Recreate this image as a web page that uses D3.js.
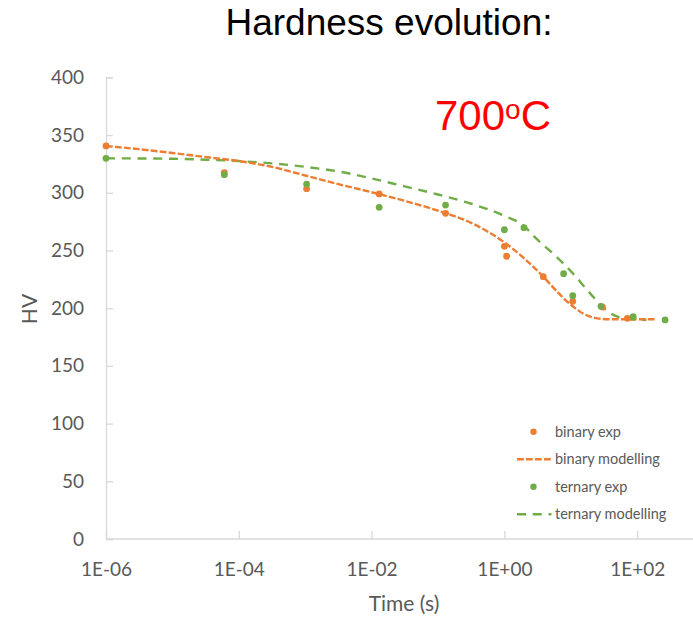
<!DOCTYPE html>
<html>
<head>
<meta charset="utf-8">
<script src="https://cdn.jsdelivr.net/npm/d3@7"></script>
<style>
  html, body { margin: 0; padding: 0; background: #fff; }
  svg { display: block; }
</style>
</head>
<body>
<svg id="chart" width="693" height="617"></svg>
<script>
// ---- Data ----
const yTicks = [0, 50, 100, 150, 200, 250, 300, 350, 400];
const xTicks = [1e-6, 1e-4, 1e-2, 1e0, 1e2];
const xTickLabels = ["1E-06", "1E-04", "1E-02", "1E+00", "1E+02"];

const binaryExpTime = [1e-6, 6.05e-5, 1.05e-3, 1.3e-2, 0.13, 1.0, 1.08, 3.85, 10.7, 30, 71];
const binaryExpHV   = [340.6, 317.4, 303.6, 299, 282.2, 253.6, 245, 227.3, 206, 201, 191.2];

const ternaryExpTime = [1e-6, 6.05e-5, 1.05e-3, 1.3e-2, 0.13, 1.0, 1.97, 7.8, 10.7, 28.5, 87, 263];
const ternaryExpHV   = [329.9, 315.7, 307.6, 287.4, 289.4, 268, 269.8, 229.9, 210.8, 201.6, 192.6, 189.8];

const binaryModelTime = [1e-6, 3.16e-6, 1e-5, 3.16e-5, 1e-4, 3.16e-4, 1e-3, 3.16e-3, 1e-2, 3.16e-2, 0.1, 0.316, 1.0, 2.0, 3.86, 6.3, 10, 15.8, 25.1, 39.8, 195];
const binaryModelHV   = [340.5, 337.8, 334.5, 331, 327.5, 322.5, 315, 307.5, 300.5, 293, 284.5, 274, 257, 243, 227.3, 214, 203, 195, 191.2, 190.4, 190.4];

const ternaryModelTime = [1e-6, 1e-5, 3.16e-5, 1e-4, 3.16e-4, 1e-3, 3.16e-3, 1e-2, 3.16e-2, 0.1, 0.316, 1.0, 2.0, 2.82, 3.98, 5.62, 7.94, 11.2, 15.8, 22.4, 31.6, 44.7, 63.1, 100, 138];
const ternaryModelHV   = [329.9, 329.5, 328.7, 327.5, 325.5, 322.5, 318.5, 312.5, 305.5, 298.5, 290.5, 280, 271, 262, 254, 246.5, 238, 229, 219, 209, 200, 194, 191, 190, 189.8];

const legendLabels = ["binary exp", "binary modelling", "ternary exp", "ternary modelling"];

// ---- Styles ----
const ORANGE = "#ED7D31", GREEN = "#70AD47";
const AXIS = "#D9D9D9", TXT = "#595959";
const FONT = "Lato, 'Open Sans', sans-serif";

const svg = d3.select("#chart");

const x = d3.scaleLog().domain([1e-6, 1e3]).range([106, 703.6]);
const y = d3.scaleLinear().domain([0, 400]).range([539, 77.4]);

// Title
svg.append("text").attr("x", 389).attr("y", 35).attr("text-anchor", "middle")
  .attr("font-family", "'Liberation Sans', Arial, sans-serif").attr("font-size", 37).attr("fill", "#000")
  .text("Hardness evolution:");

// 700oC
const t7 = svg.append("text").attr("x", 435).attr("y", 129.5)
  .attr("font-family", "'Liberation Sans', Arial, sans-serif").attr("font-size", 42).attr("fill", "#FF0000");
t7.append("tspan").text("700");
t7.append("tspan").attr("font-size", 28).attr("dy", -11).text("o");
t7.append("tspan").attr("dy", 11).text("C");

// Axes
const yAxis = d3.axisLeft(y).tickValues(yTicks).tickSize(-7).tickPadding(22).tickFormat(d3.format("d"));
const gy = svg.append("g").attr("transform", "translate(106,0)").call(yAxis);
const xAxis = d3.axisBottom(x).tickValues(xTicks).tickSize(-8).tickPadding(26)
  .tickFormat((d, i) => xTickLabels[i]);
const gx = svg.append("g").attr("transform", "translate(0,539)").call(xAxis);

[gx, gy].forEach(g => {
  g.select(".domain").attr("stroke", AXIS).attr("stroke-width", 1.3);
  g.selectAll(".tick line").attr("stroke", AXIS).attr("stroke-width", 1.3);
  g.selectAll(".tick text").attr("fill", TXT).attr("font-family", FONT).attr("font-size", 19);
});
gx.select(".domain").attr("d", "M106,0H693");
gy.selectAll(".tick text").attr("x", -22);
gx.selectAll(".tick text").attr("dy", "0.71em").attr("y", 24);

// Axis titles
svg.append("text").attr("x", 404).attr("y", 611).attr("text-anchor", "middle")
  .attr("font-family", FONT).attr("font-size", 21).attr("fill", TXT).text("Time (s)");
svg.append("text").attr("transform", "translate(37,309) rotate(-90)").attr("text-anchor", "middle")
  .attr("font-family", FONT).attr("font-size", 21).attr("fill", TXT).text("HV");

// Lines
const line = d3.line().x(d => x(d[0])).y(d => y(d[1])).curve(d3.curveMonotoneX);
const binModel = binaryModelTime.map((t, i) => [t, binaryModelHV[i]]);
const terModel = ternaryModelTime.map((t, i) => [t, ternaryModelHV[i]]);

svg.append("path").datum(terModel).attr("d", line).attr("fill", "none")
  .attr("stroke", GREEN).attr("stroke-width", 2.4).attr("stroke-dasharray", "9,6.75");
svg.append("path").datum(binModel).attr("d", line).attr("fill", "none")
  .attr("stroke", ORANGE).attr("stroke-width", 2.4).attr("stroke-dasharray", "6.75,2.25");

// Points
svg.append("g").selectAll("circle").data(binaryExpTime.map((t, i) => [t, binaryExpHV[i]]))
  .join("circle").attr("cx", d => x(d[0])).attr("cy", d => y(d[1])).attr("r", 3.4).attr("fill", ORANGE);
svg.append("g").selectAll("circle").data(ternaryExpTime.map((t, i) => [t, ternaryExpHV[i]]))
  .join("circle").attr("cx", d => x(d[0])).attr("cy", d => y(d[1])).attr("r", 3.4).attr("fill", GREEN);

// Legend
const legY = [431.7, 459.3, 486.7, 514.3];
const lg = svg.append("g");
legendLabels.forEach((lab, i) => {
  const color = i < 2 ? ORANGE : GREEN;
  if (i % 2 === 0) {
    lg.append("circle").attr("cx", 533.5).attr("cy", legY[i]).attr("r", 3.2).attr("fill", color);
  } else {
    lg.append("line").attr("x1", 517).attr("x2", 551.5).attr("y1", legY[i]).attr("y2", legY[i])
      .attr("stroke", color).attr("stroke-width", 2.4)
      .attr("stroke-dasharray", i === 1 ? "6.75,2.25" : "9,6.75");
  }
  lg.append("text").attr("x", 555).attr("y", legY[i]).attr("dy", "0.35em")
    .attr("font-family", FONT).attr("font-size", 14.5).attr("fill", TXT).text(lab);
});
</script>
</body>
</html>
